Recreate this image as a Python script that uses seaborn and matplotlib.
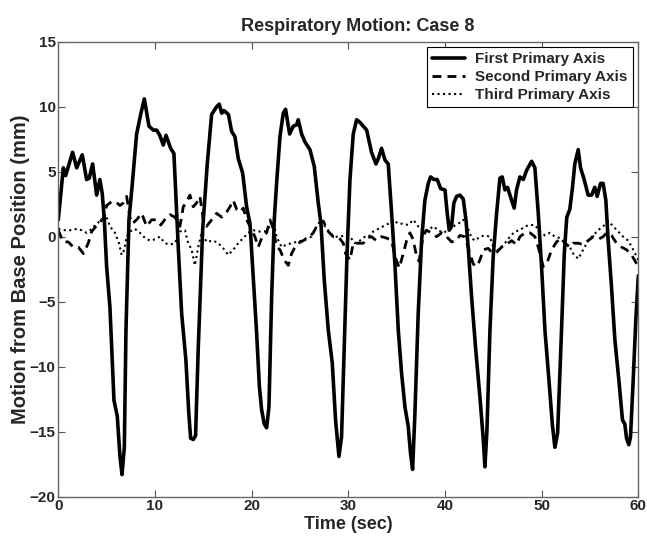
import matplotlib
matplotlib.use('Agg')
from matplotlib import pyplot as plt
import seaborn as sns

# first primary axis (time in sec, motion in mm)
t1 = [0.0, 0.52, 0.76, 1.48, 1.9, 2.48, 2.93, 3.2, 3.55, 3.97, 4.3, 4.55, 4.76, 5.0, 5.34, 5.76, 6.1, 6.38, 6.59,
      6.83, 7.0, 7.31, 7.66, 8.1, 8.55, 8.9, 9.38, 9.83, 10.17, 10.5, 10.86, 11.14, 11.62, 11.96, 12.17, 12.41,
      12.76, 13.2, 13.5, 13.69, 13.96, 14.2, 14.48, 14.93, 15.41, 15.86, 16.38, 16.65, 16.9, 17.14, 17.6, 17.93,
      18.27, 18.62, 19.07, 19.48, 19.83, 20.17, 20.5, 20.8, 21.03, 21.3, 21.55, 21.79, 22.07, 22.34, 22.58, 22.93,
      23.27, 23.51, 23.93, 24.3, 24.65, 24.82, 25.17, 25.51, 26.03, 26.48, 26.89, 27.17, 27.51, 27.93, 28.34,
      28.68, 29.03, 29.3, 29.58, 29.86, 30.17, 30.51, 30.86, 31.2, 31.54, 31.9, 32.4, 32.86, 33.1, 33.44, 33.79,
      34.13, 34.48, 34.82, 35.17, 35.51, 35.86, 36.2, 36.44, 36.65, 36.89, 37.23, 37.58, 37.92, 38.27, 38.51,
      38.86, 39.2, 39.55, 40.0, 40.23, 40.44, 40.68, 40.92, 41.2, 41.54, 41.89, 42.17, 42.4, 42.75, 43.16, 43.61,
      43.96, 44.13, 44.34, 44.65, 44.99, 45.34, 45.68, 45.92, 46.2, 46.47, 46.89, 47.16, 47.4, 47.75, 48.1, 48.44,
      48.96, 49.3, 49.65, 49.99, 50.34, 50.75, 51.1, 51.37, 51.65, 51.99, 52.34, 52.6, 52.91, 53.19, 53.43, 53.78,
      54.02, 54.36, 54.81, 55.16, 55.5, 55.74, 56.09, 56.36, 56.64, 56.88, 57.22, 57.57, 58.02, 58.36, 58.6,
      58.78, 59.02, 59.19, 59.47, 59.74, 60.0]
v1 = [1.3, 5.3, 4.7, 6.5, 5.3, 6.3, 4.4, 4.5, 5.6, 3.2, 4.4, 3.3, 1.3, -2.3, -5.4, -12.6, -13.8, -16.9, -18.3,
      -16.2, -7.2, 1.3, 4.1, 7.9, 9.5, 10.6, 8.5, 8.2, 8.2, 7.8, 7.05, 7.8, 6.8, 6.4, 3.1, -0.8,
      -5.9, -9.5, -13.6, -15.5, -15.6, -15.3, -8.5, 0.5, 5.6, 9.4, 10.0, 10.2, 9.5, 9.7, 9.4, 8.1,
      7.7, 6.0, 4.9, 2.3, 1.0, -3.1, -7.2, -11.5, -13.3, -14.4, -14.7, -13.1, -4.6, 1.3, 4.1, 7.7,
      9.5, 9.8, 7.9, 8.5, 8.6, 9.0, 7.9, 7.3, 6.7, 5.4, 2.6, 1.0, -3.3, -7.2, -9.7,
      -14.1, -16.9, -15.4, -8.5, -1.5, 4.4, 7.9, 9.0, 8.8, 8.5, 8.2, 6.5, 5.6, 6.0, 6.8, 5.9,
      5.6, 1.8, -2.1, -7.2, -10.5, -13.1, -14.6, -16.7, -17.9, -13.6, -5.9, -0.3, 2.8, 4.1, 4.6,
      4.4, 4.4, 3.7, 3.6, 1.8, 0.5, 0.8, 2.6, 3.1, 3.2, 2.9, 1.3, -0.8, -4.6, -8.5, -12.3,
      -15.6, -17.7, -14.9, -7.2, -1.5, 1.8, 4.5, 4.6, 3.6, 3.8, 2.8, 2.2, 3.6, 4.6, 4.4, 5.1,
      5.8, 5.3, 1.8, -2.3, -7.2, -11.0, -14.4, -16.2, -15.1, -8.5, -1.3, 1.5, 2.1, 3.8, 5.6, 6.7,
      5.3, 4.5, 3.2, 3.2, 3.8, 3.1, 4.1, 4.1, 2.8, -0.3, -3.8, -7.9, -11.3, -14.1, -14.4,
      -15.5, -16.0, -15.4, -11.0, -6.4, -3.0]

# second primary axis
t2 = [0.0, 0.5, 1.03, 1.55, 2.07, 2.6, 3.1, 3.45, 4.14, 4.76, 5.0, 5.52, 5.93, 6.38, 6.72, 7.07, 7.41, 7.66, 8.1,
      8.62, 9.14, 9.66, 10.17, 10.6, 11.2, 11.55, 12.07, 12.58, 12.93, 13.27, 13.62, 13.96, 14.3, 14.65, 15.0,
      15.34, 15.86, 16.38, 16.9, 17.41, 17.76, 18.1, 18.45, 18.79, 19.14, 19.48, 19.83, 20.34, 20.68, 21.1, 21.55,
      21.9, 22.24, 22.58, 22.93, 23.37, 23.79, 24.13, 24.48, 24.82, 25.34, 25.86, 26.37, 26.89, 27.41, 27.93,
      28.44, 28.96, 29.48, 29.72, 30.17, 30.51, 31.03, 31.55, 31.9, 32.4, 32.9, 33.44, 33.95, 34.48, 34.82, 35.27,
      35.68, 36.03, 36.37, 36.7, 37.06, 37.32, 37.72, 38.07, 38.6, 39.13, 39.65, 40.17, 40.68, 41.2, 41.54,
      42.06, 42.58, 42.92, 43.27, 43.61, 43.96, 44.47, 44.99, 45.34, 45.86, 46.37, 46.89, 47.4, 47.75, 48.27,
      48.79, 49.3, 49.65, 50.16, 50.61, 51.03, 51.54, 52.06, 52.4, 52.92, 53.26, 53.78, 54.29, 54.81, 55.33,
      55.85, 56.36, 56.71, 57.22, 57.74, 58.26, 58.78, 59.3, 60.0]
v2 = [0.5, -0.4, -0.4, -0.8, -0.8, -1.3, -0.5, 0.4, 1.0, 1.5, 2.4, 2.7, 2.7, 2.4, 2.6, 3.1, 1.5, 1.0, 1.3,
      1.8, 0.8, 1.3, 1.3, 0.9, 1.5, 1.7, 1.5, 0.8, 2.3, 2.7, 3.2, 2.3, 2.6, 3.1, 1.3,
      0.8, 1.3, 1.8, 1.5, 1.9, 2.3, 2.8, 2.1, 1.9, 2.2, 1.3, 0.8, 0.0, -0.8, 0.0, 0.3,
      1.3, 0.6, -0.8, -1.0, -1.8, -2.2, -1.3, -0.8, -0.5, -0.3, -0.1, 0.3, 1.0, 1.2, 0.4,
      0.0, 0.0, -0.5, -1.3, -1.8, -0.5, -0.5, -0.5, -0.1, 0.0, -0.3, 0.0, -0.1, -0.3, -1.5, -2.4,
      -1.3, -0.3, 0.3, -0.2, -1.5, -1.9, 0.0, 0.5, 0.3, 0.0, 0.3, 0.0, -0.4, -0.3, 0.1,
      0.0, -1.3, -2.1, -2.3, -1.8, -1.0, -0.9, -1.3, -1.2, -0.8, -0.6, -0.3, -0.6, 0.0, 0.3,
      0.3, 0.0, -0.8, -2.3, -1.9, -1.0, -0.4, -0.1, -0.5, -0.8, -0.5, -0.5, -0.6, -0.3, 0.0,
      -0.2, 0.0, 0.3, 0.1, -0.5, -0.8, -1.0, -1.4, -2.3]

# third primary axis
t3 = [0.0, 0.69, 1.38, 1.9, 2.41, 2.93, 3.45, 3.97, 4.48, 5.0, 5.34, 5.86, 6.28, 6.55, 6.83, 7.07, 7.41, 7.93,
      8.45, 8.97, 9.48, 10.0, 10.5, 11.03, 11.55, 12.07, 12.58, 13.1, 13.44, 13.79, 14.13, 14.48, 14.82, 15.34,
      16.03, 16.55, 17.07, 17.58, 18.1, 18.62, 19.14, 19.65, 20.17, 20.69, 21.37, 21.9, 22.24, 22.58, 23.1,
      23.62, 24.13, 24.65, 25.17, 25.68, 26.2, 26.72, 27.17, 27.58, 28.1, 28.62, 29.13, 29.65, 30.17, 30.68,
      31.2, 31.72, 32.1, 32.58, 33.1, 33.61, 34.13, 34.65, 35.17, 35.68, 36.2, 36.72, 37.23, 37.75, 38.27,
      38.79, 39.3, 39.82, 40.34, 40.86, 41.37, 41.89, 42.4, 42.75, 43.1, 43.61, 44.13, 44.65, 45.17, 45.68,
      46.2, 46.72, 47.23, 47.75, 48.27, 48.79, 49.3, 49.82, 50.34, 50.86, 51.37, 51.89, 52.4, 52.92, 53.26,
      53.78, 54.29, 54.81, 55.33, 55.84, 56.36, 56.88, 57.4, 57.91, 58.43, 58.95, 59.47, 60.0]
v3 = [0.6, 0.5, 0.5, 0.6, 0.5, 0.3, 0.6, 1.0, 1.3, 1.5, 0.8, 0.3, -0.5, -1.4, -1.0, 0.0, 0.4, 0.6,
      0.3, -0.1, -0.3, -0.2, 0.0, -0.5, -0.6, -0.5, 0.4, 0.5, -0.5, -1.0, -2.2, -0.8, 0.3, -0.4,
      -0.3, -0.5, -0.9, -1.4, -1.0, -0.5, -0.1, 0.3, 0.5, 0.4, 0.4, 0.8, 1.2, 0.0, -0.8,
      -0.6, -0.5, -0.4, -0.3, -0.1, 0.0, 0.8, 1.3, 0.8, 0.3, 0.0, 0.0, 0.1, 0.0, -0.5,
      -0.3, 0.0, 0.0, 0.4, 0.6, 0.8, 1.0, 1.3, 1.0, 1.0, 0.9, 1.3, 0.8, 0.4, 0.5,
      0.8, 0.5, 0.3, 0.5, 0.8, 1.0, 1.3, 0.6, -0.1, -0.3, 0.0, 0.1, 0.0, -1.2, -0.9,
      -0.5, 0.0, 0.4, 0.5, 0.8, 0.9, 0.9, 0.4, 0.1, 0.3, 0.0, -0.1, -0.5, -0.8, -1.3,
      -1.7, -1.0, -0.3, 0.1, 0.5, 0.8, 1.2, 0.8, 0.4, 0.0, -0.3, -1.0, -1.8]

labels = ['First Primary Axis', 'Second Primary Axis', 'Third Primary Axis']

sns.set_style('white')
plt.rcParams['font.family'] = ['Liberation Sans', 'DejaVu Sans']
plt.rcParams['font.weight'] = 'bold'

f = plt.figure(figsize=(6.47, 5.39), dpi=100)
ax = f.add_axes([0.0901, 0.0785, 0.8965, 0.8441])

sns.lineplot(x=t1, y=v1, ax=ax, color='black', lw=2.6, label=labels[0])
sns.lineplot(x=t2, y=v2, ax=ax, color='black', lw=2.0, label=labels[1])
sns.lineplot(x=t3, y=v3, ax=ax, color='black', lw=1.5, label=labels[2])
ax.lines[1].set_dashes([3.2, 2.2])
ax.lines[2].set_linestyle(':')
for ln in ax.lines:
    ln.set_solid_joinstyle('round')

ax.set_xlim(0, 60)
ax.set_ylim(-20, 15)
ax.set_xticks(range(0, 61, 10))
ax.set_yticks(range(-20, 16, 5))
ax.set_yticklabels(['\u221220', '\u221215', '\u221210', '\u22125', '0', '5', '10', '15'])
ax.tick_params(direction='in', length=5, width=0.8, color='#555555', labelsize=11,
               top=True, right=True, left=True, bottom=True, pad=2)
for lab in ax.get_xticklabels() + ax.get_yticklabels():
    lab.set_fontweight('bold')
for s in ax.spines.values():
    s.set_color('#666666')
    s.set_linewidth(1.0)

ax.set_title('Respiratory Motion: Case 8', fontsize=13, fontweight='bold', pad=8, x=0.517)
ax.set_xlabel('Time (sec)', fontsize=13, fontweight='bold', labelpad=2)
ax.set_ylabel('Motion from Base Position (mm)', fontsize=14.5, fontweight='bold', labelpad=0)

leg = ax.legend(loc='upper right', fancybox=False, framealpha=1, edgecolor='black',
                prop={'weight': 'bold', 'size': 11}, handlelength=2.1, handletextpad=0.7,
                borderpad=0.35, labelspacing=0.25, borderaxespad=0.35)
leg.get_frame().set_linewidth(0.8)

f.savefig('out.png', dpi=100)
